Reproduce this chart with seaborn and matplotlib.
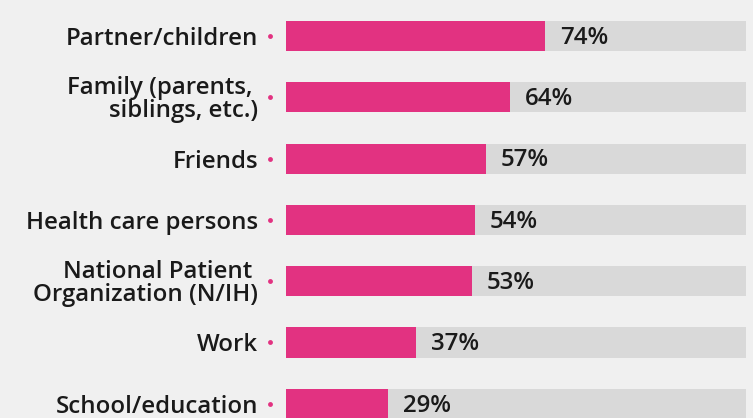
import matplotlib
matplotlib.use("Agg")
import matplotlib.pyplot as plt
import seaborn as sns
import pandas as pd

categories = [
    "Partner/children",
    "Family (parents, \nsiblings, etc.)",
    "Friends",
    "Health care persons",
    "National Patient \nOrganization (N/IH)",
    "Work",
    "School/education",
]
shares = [74, 64, 57, 54, 53, 37, 29]

PINK = "#e23281"
TRACK = "#d9d9d9"
BG = "#f0f0f0"
TRACK_LEN = 131.5

sns.set_theme(style="white")
plt.rcParams["font.family"] = ["Open Sans", "DejaVu Sans"]

df = pd.DataFrame({"category": categories, "share": shares})
df["track"] = TRACK_LEN

fig = plt.figure(figsize=(7.53, 4.18), dpi=100, facecolor=BG)
ax = fig.add_axes([286 / 753, 0, 1 - 286 / 753, 1])
ax.set_facecolor(BG)

sns.barplot(data=df, y="category", x="track", color=TRACK, width=0.49,
            saturation=1, ax=ax, orient="h", linewidth=0)
sns.barplot(data=df, y="category", x="share", color=PINK, width=0.49,
            saturation=1, ax=ax, orient="h", linewidth=0)

px_per_unit = 3.5
ax.set_xlim(0, (753 - 286) / px_per_unit)
step = 61.3
ax.set_ylim((418 - 36) / step, -36 / step)

for i, v in enumerate(shares):
    ax.text(v + 15 / px_per_unit, i + 0.03, f"{v}%", va="center", ha="left",
            fontsize=17.3, fontweight="semibold", color="#1a1a1a")
    ax.plot([-16 / px_per_unit], [i], marker="o", markersize=3.5,
            color=PINK, clip_on=False, markeredgewidth=0)

ax.set_xlabel("")
ax.set_ylabel("")
ax.set_xticks([])
ax.tick_params(axis="y", length=0, pad=20)
for lab in ax.get_yticklabels():
    lab.set_fontsize(17.3)
    lab.set_fontweight("semibold")
    lab.set_color("#1a1a1a")
    lab.set_linespacing(0.95)
sns.despine(ax=ax, left=True, bottom=True)

fig.savefig("out.png", dpi=100, facecolor=BG)
